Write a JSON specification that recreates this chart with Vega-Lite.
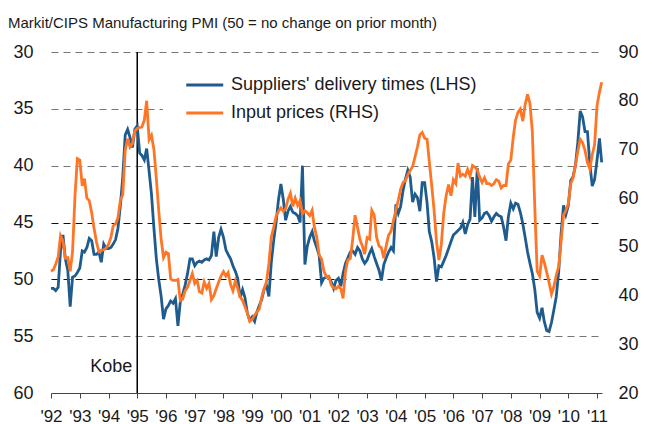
{
"$schema": "https://vega.github.io/schema/vega-lite/v6.json",
"width": 551, "height": 341,
"autosize": {"type": "none"},
"padding": {"left": 51, "top": 52, "right": 51, "bottom": 31},
"background": "white",
"config": {"view": {"stroke": null}, "font": "Liberation Sans", "axis": {"labelFont": "Liberation Sans", "labelColor": "#1a1a1a"}, "legend": {"labelFont": "Liberation Sans"}},
"title": {"text": "Markit/CIPS Manufacturing PMI (50 = no change on prior month)", "anchor": "start", "frame": "group", "dx": -43, "offset": 12, "fontSize": 15, "fontWeight": "normal", "color": "#1a1a1a", "font": "Liberation Sans"},
"datasets": {
"pmi": [
{"d":"1992-01-01","s":50.8,"p":45.0},{"d":"1992-02-01","s":50.8,"p":45.3},{"d":"1992-03-01","s":51.0,"p":46.5},{"d":"1992-04-01","s":50.7,"p":47.9},{"d":"1992-05-01","s":47.5,"p":52.3},{"d":"1992-06-01","s":46.1,"p":51.2},{"d":"1992-07-01","s":48.2,"p":47.7},{"d":"1992-08-01","s":49.2,"p":47.8},{"d":"1992-09-01","s":52.4,"p":45.0},{"d":"1992-10-01","s":49.8,"p":49.0},{"d":"1992-11-01","s":49.7,"p":60.5},{"d":"1992-12-01","s":49.4,"p":68.1},
{"d":"1993-01-01","s":49.0,"p":67.8},{"d":"1993-02-01","s":47.5,"p":62.5},{"d":"1993-03-01","s":47.6,"p":64.0},{"d":"1993-04-01","s":47.2,"p":60.0},{"d":"1993-05-01","s":46.4,"p":59.5},{"d":"1993-06-01","s":46.6,"p":57.0},{"d":"1993-07-01","s":47.8,"p":53.8},{"d":"1993-08-01","s":47.8,"p":51.0},{"d":"1993-09-01","s":47.6,"p":49.0},{"d":"1993-10-01","s":48.5,"p":49.3},{"d":"1993-11-01","s":46.9,"p":49.4},{"d":"1993-12-01","s":47.3,"p":49.7},
{"d":"1994-01-01","s":47.3,"p":50.5},{"d":"1994-02-01","s":47.2,"p":52.0},{"d":"1994-03-01","s":46.9,"p":54.3},{"d":"1994-04-01","s":46.5,"p":54.7},{"d":"1994-05-01","s":45.5,"p":56.0},{"d":"1994-06-01","s":43.5,"p":59.6},{"d":"1994-07-01","s":41.0,"p":60.7},{"d":"1994-08-01","s":37.3,"p":69.8},{"d":"1994-09-01","s":36.8,"p":72.2},{"d":"1994-10-01","s":37.5,"p":70.5},{"d":"1994-11-01","s":38.4,"p":71.2},{"d":"1994-12-01","s":36.8,"p":73.8},
{"d":"1995-01-01","s":36.5,"p":74.3},{"d":"1995-02-01","s":38.9,"p":74.5},{"d":"1995-03-01","s":39.1,"p":74.6},{"d":"1995-04-01","s":39.5,"p":76.0},{"d":"1995-05-01","s":38.5,"p":80.0},{"d":"1995-06-01","s":40.5,"p":72.0},{"d":"1995-07-01","s":42.5,"p":72.9},{"d":"1995-08-01","s":45.5,"p":70.0},{"d":"1995-09-01","s":48.2,"p":64.0},{"d":"1995-10-01","s":50.0,"p":57.5},{"d":"1995-11-01","s":51.5,"p":51.5},{"d":"1995-12-01","s":53.5,"p":47.8},
{"d":"1996-01-01","s":52.6,"p":48.9},{"d":"1996-02-01","s":52.3,"p":48.6},{"d":"1996-03-01","s":51.9,"p":43.4},{"d":"1996-04-01","s":52.1,"p":43.1},{"d":"1996-05-01","s":51.7,"p":43.1},{"d":"1996-06-01","s":54.1,"p":43.3},{"d":"1996-07-01","s":52.0,"p":39.0},{"d":"1996-08-01","s":51.3,"p":39.3},{"d":"1996-09-01","s":50.5,"p":41.0},{"d":"1996-10-01","s":49.5,"p":41.7},{"d":"1996-11-01","s":48.2,"p":43.1},{"d":"1996-12-01","s":48.2,"p":44.5},
{"d":"1997-01-01","s":48.8,"p":42.5},{"d":"1997-02-01","s":48.5,"p":43.1},{"d":"1997-03-01","s":48.4,"p":40.8},{"d":"1997-04-01","s":48.5,"p":40.5},{"d":"1997-05-01","s":48.3,"p":42.8},{"d":"1997-06-01","s":48.2,"p":41.5},{"d":"1997-07-01","s":48.3,"p":42.5},{"d":"1997-08-01","s":47.9,"p":39.2},{"d":"1997-09-01","s":45.8,"p":40.0},{"d":"1997-10-01","s":48.0,"p":41.4},{"d":"1997-11-01","s":46.3,"p":42.8},{"d":"1997-12-01","s":45.6,"p":44.0},
{"d":"1998-01-01","s":46.3,"p":44.9},{"d":"1998-02-01","s":47.4,"p":44.0},{"d":"1998-03-01","s":47.8,"p":44.7},{"d":"1998-04-01","s":48.2,"p":42.3},{"d":"1998-05-01","s":48.8,"p":41.0},{"d":"1998-06-01","s":49.3,"p":43.0},{"d":"1998-07-01","s":49.9,"p":41.5},{"d":"1998-08-01","s":51.6,"p":39.7},{"d":"1998-09-01","s":50.9,"p":39.0},{"d":"1998-10-01","s":51.6,"p":37.7},{"d":"1998-11-01","s":53.0,"p":36.4},{"d":"1998-12-01","s":53.6,"p":34.7},
{"d":"1999-01-01","s":53.3,"p":35.1},{"d":"1999-02-01","s":53.7,"p":36.0},{"d":"1999-03-01","s":52.9,"p":36.6},{"d":"1999-04-01","s":52.3,"p":37.2},{"d":"1999-05-01","s":51.8,"p":39.6},{"d":"1999-06-01","s":50.9,"p":41.4},{"d":"1999-07-01","s":50.5,"p":42.8},{"d":"1999-08-01","s":51.5,"p":46.5},{"d":"1999-09-01","s":48.5,"p":52.0},{"d":"1999-10-01","s":46.6,"p":54.0},{"d":"1999-11-01","s":45.0,"p":56.3},{"d":"1999-12-01","s":43.0,"p":57.3},
{"d":"2000-01-01","s":41.6,"p":58.0},{"d":"2000-02-01","s":43.0,"p":57.3},{"d":"2000-03-01","s":44.8,"p":57.8},{"d":"2000-04-01","s":44.0,"p":59.8},{"d":"2000-05-01","s":43.6,"p":61.0},{"d":"2000-06-01","s":44.1,"p":58.3},{"d":"2000-07-01","s":44.2,"p":60.0},{"d":"2000-08-01","s":44.4,"p":58.5},{"d":"2000-09-01","s":45.0,"p":59.5},{"d":"2000-10-01","s":40.0,"p":56.8},{"d":"2000-11-01","s":48.7,"p":57.4},{"d":"2000-12-01","s":47.1,"p":57.0},
{"d":"2001-01-01","s":46.3,"p":56.4},{"d":"2001-02-01","s":45.8,"p":57.5},{"d":"2001-03-01","s":46.6,"p":54.1},{"d":"2001-04-01","s":47.2,"p":52.0},{"d":"2001-05-01","s":47.9,"p":48.3},{"d":"2001-06-01","s":50.3,"p":47.5},{"d":"2001-07-01","s":49.9,"p":45.0},{"d":"2001-08-01","s":49.8,"p":43.9},{"d":"2001-09-01","s":49.8,"p":44.0},{"d":"2001-10-01","s":50.2,"p":42.2},{"d":"2001-11-01","s":50.8,"p":41.6},{"d":"2001-12-01","s":50.1,"p":41.4},
{"d":"2002-01-01","s":49.9,"p":41.9},{"d":"2002-02-01","s":50.6,"p":41.4},{"d":"2002-03-01","s":49.5,"p":39.4},{"d":"2002-04-01","s":48.6,"p":45.0},{"d":"2002-05-01","s":48.1,"p":47.3},{"d":"2002-06-01","s":47.6,"p":47.6},{"d":"2002-07-01","s":47.5,"p":51.5},{"d":"2002-08-01","s":47.8,"p":56.5},{"d":"2002-09-01","s":47.2,"p":54.0},{"d":"2002-10-01","s":47.5,"p":51.5},{"d":"2002-11-01","s":48.2,"p":50.2},{"d":"2002-12-01","s":48.6,"p":48.5},
{"d":"2003-01-01","s":48.3,"p":51.9},{"d":"2003-02-01","s":47.7,"p":51.6},{"d":"2003-03-01","s":47.3,"p":57.5},{"d":"2003-04-01","s":48.0,"p":56.5},{"d":"2003-05-01","s":48.6,"p":52.0},{"d":"2003-06-01","s":49.2,"p":50.2},{"d":"2003-07-01","s":50.1,"p":49.8},{"d":"2003-08-01","s":48.7,"p":47.7},{"d":"2003-09-01","s":48.1,"p":50.3},{"d":"2003-10-01","s":47.6,"p":52.4},{"d":"2003-11-01","s":47.2,"p":53.2},{"d":"2003-12-01","s":47.5,"p":55.4},
{"d":"2004-01-01","s":43.4,"p":57.5},{"d":"2004-02-01","s":44.2,"p":59.6},{"d":"2004-03-01","s":43.6,"p":61.8},{"d":"2004-04-01","s":42.2,"p":63.2},{"d":"2004-05-01","s":41.2,"p":63.6},{"d":"2004-06-01","s":40.4,"p":64.8},{"d":"2004-07-01","s":41.0,"p":65.7},{"d":"2004-08-01","s":43.2,"p":66.5},{"d":"2004-09-01","s":42.5,"p":68.5},{"d":"2004-10-01","s":42.8,"p":70.5},{"d":"2004-11-01","s":44.0,"p":73.0},{"d":"2004-12-01","s":41.5,"p":73.5},
{"d":"2005-01-01","s":41.5,"p":72.3},{"d":"2005-02-01","s":43.3,"p":72.1},{"d":"2005-03-01","s":45.8,"p":67.5},{"d":"2005-04-01","s":46.7,"p":62.5},{"d":"2005-05-01","s":48.1,"p":57.5},{"d":"2005-06-01","s":50.2,"p":51.0},{"d":"2005-07-01","s":48.8,"p":47.3},{"d":"2005-08-01","s":48.9,"p":50.5},{"d":"2005-09-01","s":48.4,"p":57.0},{"d":"2005-10-01","s":47.9,"p":60.5},{"d":"2005-11-01","s":47.3,"p":62.8},{"d":"2005-12-01","s":46.7,"p":60.5},
{"d":"2006-01-01","s":46.1,"p":63.8},{"d":"2006-02-01","s":45.9,"p":63.0},{"d":"2006-03-01","s":45.7,"p":67.2},{"d":"2006-04-01","s":45.5,"p":64.5},{"d":"2006-05-01","s":45.0,"p":64.9},{"d":"2006-06-01","s":46.0,"p":64.5},{"d":"2006-07-01","s":45.2,"p":65.9},{"d":"2006-08-01","s":44.7,"p":64.5},{"d":"2006-09-01","s":41.0,"p":66.7},{"d":"2006-10-01","s":44.5,"p":66.4},{"d":"2006-11-01","s":40.2,"p":65.8},{"d":"2006-12-01","s":44.8,"p":64.3},
{"d":"2007-01-01","s":44.6,"p":63.2},{"d":"2007-02-01","s":44.2,"p":64.2},{"d":"2007-03-01","s":44.1,"p":63.0},{"d":"2007-04-01","s":44.4,"p":63.0},{"d":"2007-05-01","s":44.9,"p":62.6},{"d":"2007-06-01","s":44.5,"p":63.0},{"d":"2007-07-01","s":44.2,"p":63.8},{"d":"2007-08-01","s":44.4,"p":63.5},{"d":"2007-09-01","s":44.5,"p":62.1},{"d":"2007-10-01","s":45.4,"p":62.6},{"d":"2007-11-01","s":46.6,"p":62.6},{"d":"2007-12-01","s":44.5,"p":67.0},
{"d":"2008-01-01","s":43.3,"p":67.8},{"d":"2008-02-01","s":43.8,"p":72.5},{"d":"2008-03-01","s":43.3,"p":76.0},{"d":"2008-04-01","s":43.4,"p":77.6},{"d":"2008-05-01","s":44.1,"p":78.3},{"d":"2008-06-01","s":45.1,"p":75.8},{"d":"2008-07-01","s":46.3,"p":79.2},{"d":"2008-08-01","s":47.6,"p":81.3},{"d":"2008-09-01","s":48.6,"p":79.4},{"d":"2008-10-01","s":49.5,"p":73.5},{"d":"2008-11-01","s":50.9,"p":58.0},{"d":"2008-12-01","s":52.9,"p":45.0},
{"d":"2009-01-01","s":53.4,"p":44.0},{"d":"2009-02-01","s":52.5,"p":48.3},{"d":"2009-03-01","s":53.7,"p":46.8},{"d":"2009-04-01","s":54.5,"p":44.8},{"d":"2009-05-01","s":54.6,"p":42.7},{"d":"2009-06-01","s":53.8,"p":40.3},{"d":"2009-07-01","s":52.7,"p":41.8},{"d":"2009-08-01","s":51.5,"p":44.2},{"d":"2009-09-01","s":49.3,"p":46.0},{"d":"2009-10-01","s":46.0,"p":51.0},{"d":"2009-11-01","s":43.5,"p":56.5},{"d":"2009-12-01","s":44.3,"p":57.5},
{"d":"2010-01-01","s":43.5,"p":58.8},{"d":"2010-02-01","s":41.3,"p":63.0},{"d":"2010-03-01","s":41.0,"p":64.1},{"d":"2010-04-01","s":40.0,"p":66.7},{"d":"2010-05-01","s":38.0,"p":69.5},{"d":"2010-06-01","s":35.2,"p":72.1},{"d":"2010-07-01","s":35.7,"p":71.4},{"d":"2010-08-01","s":37.0,"p":69.8},{"d":"2010-09-01","s":37.0,"p":67.3},{"d":"2010-10-01","s":39.8,"p":66.0},{"d":"2010-11-01","s":41.8,"p":68.9},{"d":"2010-12-01","s":41.2,"p":71.0},
{"d":"2011-01-01","s":39.5,"p":79.0},{"d":"2011-02-01","s":37.6,"p":81.8},{"d":"2011-03-01","s":39.7,"p":83.8}
],
"events": [{"d": "1995-01-01", "label": "Kobe"}]
},
"encoding": {
  "x": {"field": "d", "type": "temporal",
    "scale": {"type": "utc", "domain": [{"year": 1992, "month": 1, "date": 1, "utc": true}, {"year": 2011, "month": 3, "date": 5, "utc": true}]},
    "axis": {"title": null, "tickCount": {"interval": "year", "step": 1}, "labelExpr": "\"'\" + utcFormat(datum.value, '%y')", "labelFlush": false, "labelOverlap": false, "labelFontSize": 17, "labelPadding": 10, "tickSize": 5, "tickColor": "#444444", "domainColor": "#444444", "grid": false}}
},
"layer": [
  {"data": {"name": "events"}, "mark": {"type": "rule", "color": "#000000", "strokeWidth": 1.5}, "encoding": {}},
  {"data": {"name": "events"}, "mark": {"type": "text", "align": "right", "baseline": "middle", "dx": -5, "fontSize": 18, "font": "Liberation Sans", "color": "#1a1a1a"},
   "encoding": {"text": {"field": "label"}, "y": {"datum": 57.7, "type": "quantitative", "scale": {"domain": [30, 60], "reverse": true, "nice": false, "zero": false}, "axis": null}}},
  {"data": {"name": "pmi"}, "mark": {"type": "line", "strokeWidth": 2.8},
   "encoding": {
     "y": {"field": "s", "type": "quantitative", "scale": {"domain": [30, 60], "reverse": true, "nice": false, "zero": false},
       "axis": {"orient": "left", "values": [30, 35, 40, 45, 50, 55, 60], "title": null, "domain": false, "ticks": false, "labelPadding": 18, "labelFontSize": 18, "grid": true, "gridDash": [7, 5], "gridWidth": 1.2,
         "gridColor": {"condition": {"test": "datum.value == 45 || datum.value == 50", "value": "#111111"}, "value": "#777777"},
         "gridOpacity": {"condition": {"test": "datum.value == 60", "value": 0}, "value": 1}}},
     "color": {"datum": "Suppliers' delivery times (LHS)",
       "scale": {"domain": ["Suppliers' delivery times (LHS)", "Input prices (RHS)"], "range": ["#1f5b8d", "#ff7526"]},
       "legend": {"orient": "none", "legendX": 112, "legendY": 19, "direction": "vertical", "title": null, "fillColor": "white", "padding": 3, "symbolType": "M1,0H5", "symbolSize": 342, "symbolStrokeWidth": 3, "labelFontSize": 18, "labelOffset": 43, "rowPadding": 8, "labelLimit": 0, "labelColor": "#1a1a1a"}}
   }},
  {"data": {"name": "pmi"}, "mark": {"type": "line", "strokeWidth": 2.8},
   "encoding": {
     "y": {"field": "p", "type": "quantitative", "scale": {"domain": [20, 90], "nice": false, "zero": false},
       "axis": {"orient": "right", "values": [20, 30, 40, 50, 60, 70, 80, 90], "title": null, "domain": false, "ticks": false, "labelPadding": 16, "labelFontSize": 18, "grid": false}},
     "color": {"datum": "Input prices (RHS)"}
   }}
],
"resolve": {"scale": {"y": "independent"}}
}
